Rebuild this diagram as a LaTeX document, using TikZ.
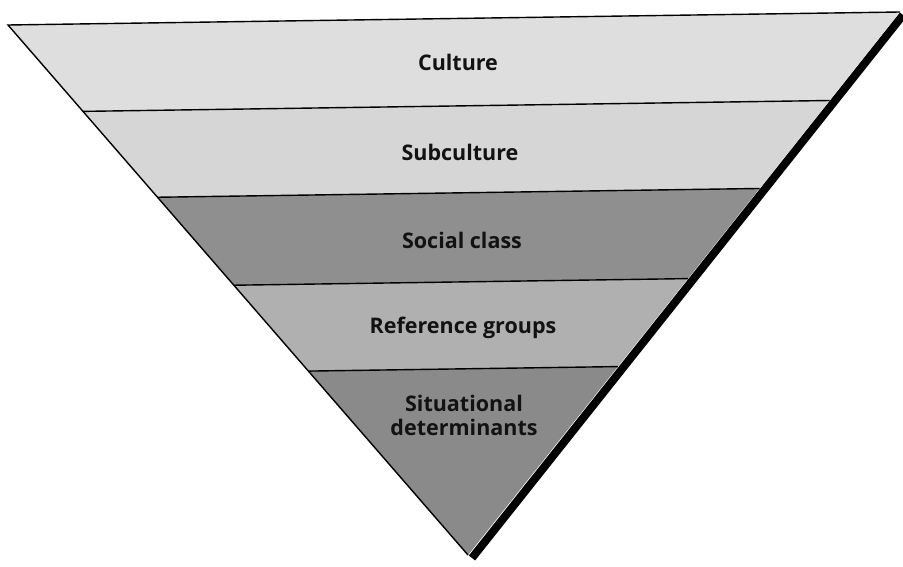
\documentclass[tikz,border=0pt]{standalone}
\usepackage{fontspec}
\setmainfont{Open Sans}
\usetikzlibrary{calc}
\definecolor{bandA}{gray}{0.87}
\definecolor{bandB}{gray}{0.84}
\definecolor{bandC}{gray}{0.56}
\definecolor{bandD}{gray}{0.69}
\definecolor{bandE}{gray}{0.54}
\definecolor{ink}{gray}{0.07}
\tikzset{
  band/.style={draw=none},
  divider/.style={draw=black, line width=1.4pt},
  shadowline/.style={draw=black, line width=8pt, line cap=butt},
  label/.style={font=\fontsize{21.5}{26}\selectfont\bfseries, text=ink, align=center, inner sep=0pt}
}
\begin{document}
\begin{tikzpicture}[x=1pt,y=1pt]
\useasboundingbox (0,0) rectangle (903,566);
% outer corners of the inverted triangle
\coordinate (TL) at (8,541);
\coordinate (TR) at (900,554);
\coordinate (AP) at (468,11);
% band boundaries along both slanted edges
\foreach \i/\f in {1/0.163, 2/0.325, 3/0.491, 4/0.653}{
  \coordinate (L\i) at ($(TL)!\f!(AP)$);
  \coordinate (R\i) at ($(TR)!\f!(AP)$);
}
% drop shadow along the right edge
\draw[shadowline] ($(TR)+(3,-3)$) -- ($(AP)+(4,-3)$);
% bands
\fill[bandA] (TL) -- (TR) -- (R1) -- (L1) -- cycle;
\fill[bandB] (L1) -- (R1) -- (R2) -- (L2) -- cycle;
\fill[bandC] (L2) -- (R2) -- (R3) -- (L3) -- cycle;
\fill[bandD] (L3) -- (R3) -- (R4) -- (L4) -- cycle;
\fill[bandE] (L4) -- (R4) -- (AP) -- cycle;
% outlines
\draw[divider, line join=miter] (AP) -- (TL) -- (TR);
\draw[divider] (L1) -- (R1);
\draw[divider] (L2) -- (R2);
\draw[divider] (L3) -- (R3);
\draw[divider] (L4) -- (R4);
% labels
\node[label] (culture) at (458,504) {Culture};
\node[label] (subculture) at (460,414) {Subculture};
\node[label] (social) at (462,326) {Social class};
\node[label] (reference) at (463,238) {Reference groups};
\node[label] (situational) at (464,151) {Situational\\[-2pt]determinants};
\end{tikzpicture}
\end{document}
